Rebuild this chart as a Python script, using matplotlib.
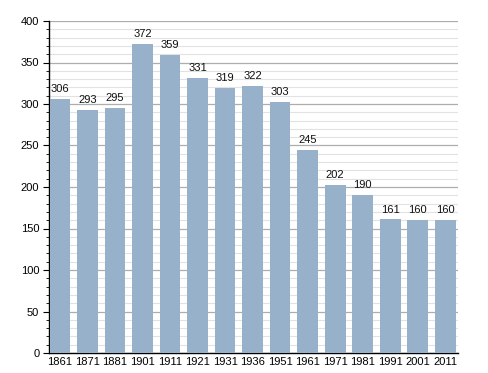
import matplotlib
matplotlib.use('Agg')
import matplotlib.pyplot as plt
from matplotlib.ticker import MultipleLocator

years = ['1861', '1871', '1881', '1901', '1911', '1921', '1931', '1936',
         '1951', '1961', '1971', '1981', '1991', '2001', '2011']
population = [306, 293, 295, 372, 359, 331, 319, 322, 303, 245, 202, 190,
              161, 160, 160]

plt.rcParams['font.family'] = ['Liberation Sans', 'DejaVu Sans']

fig = plt.figure(figsize=(4.88, 3.73), dpi=100)
ax = fig.add_axes([49 / 488, 20 / 373, 409 / 488, 332 / 373])

w = 0.76
x = list(range(len(years)))
ax.bar(x, population, width=w, color='#98b1cb', zorder=3)
for xi, v in zip(x, population):
    ax.annotate(str(v), (xi, v), xytext=(0, 3.5), textcoords='offset points',
                ha='center', va='bottom', fontsize=8, color='#111111',
                zorder=4)

ax.set_xlim(-0.4, 14.47)
ax.set_ylim(0, 400)
ax.set_xticks(x)
ax.set_xticklabels(years)
ax.yaxis.set_major_locator(MultipleLocator(50))
ax.yaxis.set_minor_locator(MultipleLocator(10))

ax.grid(axis='y', which='major', color='#adadad', linewidth=0.9, zorder=0)
ax.grid(axis='y', which='minor', color='#e2e2e2', linewidth=0.8, zorder=0)
ax.set_axisbelow(True)

for s in ['top', 'right']:
    ax.spines[s].set_visible(False)
ax.spines['left'].set_linewidth(1.0)
ax.spines['bottom'].set_linewidth(1.0)

ax.tick_params(axis='x', length=0, labelsize=8, pad=3)
ax.tick_params(axis='y', which='major', length=4, width=0.8, labelsize=8,
               pad=3)
ax.tick_params(axis='y', which='minor', length=2, width=0.6)

fig.savefig('out.png', dpi=100)
